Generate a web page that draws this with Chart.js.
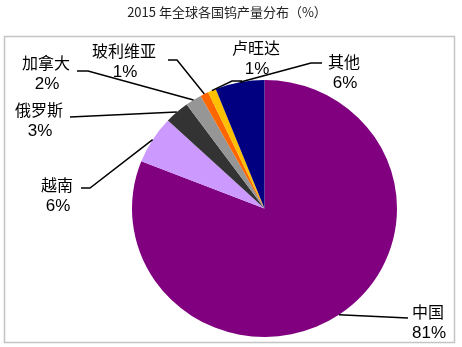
<!DOCTYPE html>
<html>
<head>
<meta charset="utf-8">
<script src="https://cdn.jsdelivr.net/npm/chart.js@4.4.1/dist/chart.umd.min.js"></script>
<style>
    html, body { margin: 0; padding: 0; background: #fff; }
    #wrap { width: 462px; height: 347px; }
</style>
</head>
<body>
<div id="wrap"><canvas id="pieChart" width="462" height="347"></canvas></div>
<script>
const titleText = '2015 年全球各国钨产量分布（%）';
const countries = ['中国', '越南', '俄罗斯', '加拿大', '玻利维亚', '卢旺达', '其他'];
const shares = [81, 6, 3, 2, 1, 1, 6];
const shareLabels = ['81%', '6%', '3%', '2%', '1%', '1%', '6%'];
const sliceColors = ['#800080', '#CC99FF', '#333333', '#969696', '#FF6600', '#FFC000', '#000080'];

// label placement: text centre + leader line bend points (after the slice anchor)
const labelLayout = [
    { x: 428, y: 312, path: [[408, 318]] },
    { x: 57, y: 185, path: [[90, 188], [81, 188]] },
    { x: 39, y: 110, path: [[70, 117]] },
    { x: 46, y: 63, path: [[88, 71], [77, 71]] },
    { x: 124, y: 51, path: [[177, 60], [168, 60]] },
    { x: 256, y: 48, path: [[232, 81], [242, 81]] },
    { x: 344, y: 62, path: [[311, 63], [322, 63]] }
];

// the original pie is a little flatter than it is wide
const squash = 128.5 / 132.5;

const framePlugin = {
    id: 'frame',
    beforeDraw(chart) {
        const c = chart.ctx;
        c.save();
        c.fillStyle = '#fff';
        c.fillRect(0, 0, chart.width, chart.height);
        c.strokeStyle = '#c4c4c4';
        c.lineWidth = 1.5;
        c.strokeRect(4.5, 36.5, 450, 306);
        c.fillStyle = '#222';
        c.font = '13px "Noto Sans CJK SC", sans-serif';
        c.textAlign = 'center';
        c.textBaseline = 'middle';
        c.fillText(titleText, 227, 12);
        c.restore();
    },
    beforeDatasetsDraw(chart) {
        const arc = chart.getDatasetMeta(0).data[0];
        const c = chart.ctx;
        c.save();
        c.translate(0, arc.y);
        c.scale(1, squash);
        c.translate(0, -arc.y);
    },
    afterDatasetsDraw(chart) {
        chart.ctx.restore();
    },
    afterDraw(chart) {
        const c = chart.ctx;
        const arcs = chart.getDatasetMeta(0).data;
        c.save();
        c.strokeStyle = '#000';
        c.lineWidth = 1.5;
        arcs.forEach((arc, i) => {
            const mid = (arc.startAngle + arc.endAngle) / 2;
            const ax = arc.x + Math.cos(mid) * arc.outerRadius;
            const ay = arc.y + Math.sin(mid) * arc.outerRadius * squash;
            const lay = labelLayout[i];
            c.beginPath();
            c.moveTo(ax, ay);
            lay.path.forEach(p => c.lineTo(p[0], p[1]));
            c.stroke();

            c.fillStyle = '#000';
            c.textAlign = 'center';
            c.textBaseline = 'middle';
            c.font = '16px "Noto Sans CJK SC", sans-serif';
            c.fillText(countries[i], lay.x, lay.y);
            c.font = '17px "Liberation Sans", Arial, sans-serif';
            c.fillText(shareLabels[i], lay.x + 1, lay.y + 21);
        });
        c.restore();
    }
};

new Chart(document.getElementById('pieChart'), {
    type: 'pie',
    data: {
        labels: countries,
        datasets: [{
            data: shares,
            backgroundColor: sliceColors,
            borderWidth: 0
        }]
    },
    options: {
        responsive: false,
        animation: false,
        layout: {
            padding: { left: 132, right: 65, top: 76, bottom: 6 }
        },
        plugins: {
            legend: { display: false },
            tooltip: { enabled: false },
            title: { display: false }
        }
    },
    plugins: [framePlugin]
});
</script>
</body>
</html>
